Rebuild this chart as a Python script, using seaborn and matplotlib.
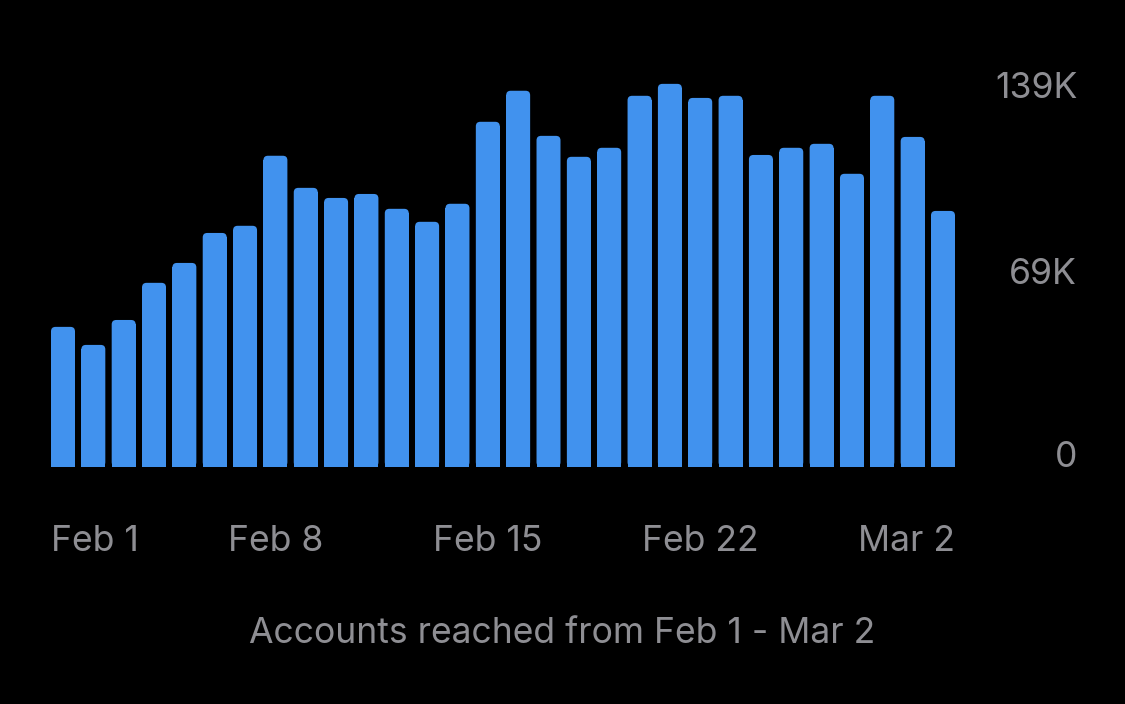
import matplotlib
matplotlib.use("Agg")
import matplotlib.pyplot as plt
from matplotlib.patches import FancyBboxPatch
import seaborn as sns
import pandas as pd

# accounts reached per day, Feb 1 - Mar 2
days = ["Feb 1", "Feb 2", "Feb 3", "Feb 4", "Feb 5", "Feb 6", "Feb 7", "Feb 8",
        "Feb 9", "Feb 10", "Feb 11", "Feb 12", "Feb 13", "Feb 14", "Feb 15",
        "Feb 16", "Feb 17", "Feb 18", "Feb 19", "Feb 20", "Feb 21", "Feb 22",
        "Feb 23", "Feb 24", "Feb 25", "Feb 26", "Feb 27", "Feb 28", "Mar 1", "Mar 2"]
reach = [52700, 45900, 55300, 69300, 76800, 88100, 90800, 117200, 105100, 101300,
         102800, 97200, 92300, 99100, 130000, 141700, 124700, 116800, 120200, 139800,
         144300, 139000, 139800, 117500, 120200, 121700, 110400, 139800, 124300, 96400]

tick_days = ["Feb 1", "Feb 8", "Feb 15", "Feb 22", "Mar 2"]
y_ticks = [0, 69000, 139000]
y_labels = ["0", "69K", "139K"]
title = "Accounts reached from Feb 1 - Mar 2"

BLUE = "#4192EE"
GRAY = "#8E8E93"
FS = 25.6

df = pd.DataFrame({"day": days, "reach": reach})

sns.set_style("dark")
plt.rcParams["font.family"] = ["Inter", "DejaVu Sans"]

fig = plt.figure(figsize=(11.25, 7.04), dpi=100, facecolor="black")
ax = fig.add_axes([0.0425, 0.3371, 0.8092, 0.5777])
ax.set_facecolor("black")

bar_w = 0.79
sns.barplot(data=df, x="day", y="reach", color=BLUE, saturation=1,
            width=bar_w, ax=ax, linewidth=0)
ax.set_xlim(-0.5, len(days) - 0.5)
ax.set_ylim(0, 153300)
for s in ax.spines.values():
    s.set_visible(False)
ax.grid(False)
ax.set_xlabel("")
ax.set_ylabel("")

# round the top corners of each bar
fig.canvas.draw()
xpp = (ax.get_xlim()[1] - ax.get_xlim()[0]) / ax.bbox.width
ypp = (ax.get_ylim()[1] - ax.get_ylim()[0]) / ax.bbox.height
r_px = 4.5
for p in list(ax.patches):
    x, w, h = p.get_x(), p.get_width(), p.get_height()
    rb = FancyBboxPatch((x, 0), w, h,
                        boxstyle=f"round,pad=0,rounding_size={r_px * xpp}",
                        mutation_aspect=ypp / xpp, facecolor=BLUE,
                        edgecolor="none", linewidth=0)
    ax.add_patch(rb)
    p.set_height(h - r_px * ypp)

# x ticks
pos = [days.index(d) for d in tick_days]
pos[0] = pos[0] - bar_w / 2
pos[-1] = pos[-1] + bar_w / 2
ax.set_xticks(pos)
ax.set_xticklabels(tick_days)
ax.tick_params(axis="x", length=0, pad=60.5, labelsize=FS, labelcolor=GRAY)
for i, lab in enumerate(ax.get_xticklabels()):
    lab.set_va("baseline")
    if i == 0:
        lab.set_ha("left")
    elif i == len(tick_days) - 1:
        lab.set_ha("right")

# y ticks on the right
ax.yaxis.tick_right()
ax.set_yticks(y_ticks)
ax.set_yticklabels(y_labels)
ax.tick_params(axis="y", length=0, pad=85.7, labelsize=FS, labelcolor=GRAY)
for lab in ax.get_yticklabels():
    lab.set_ha("right")
    lab.set_va("baseline")

fig.text(0.5, 1 - 643.3 / 704, title, ha="center", va="baseline",
         fontsize=FS, color=GRAY)

fig.savefig("out.png", dpi=100, facecolor="black")
